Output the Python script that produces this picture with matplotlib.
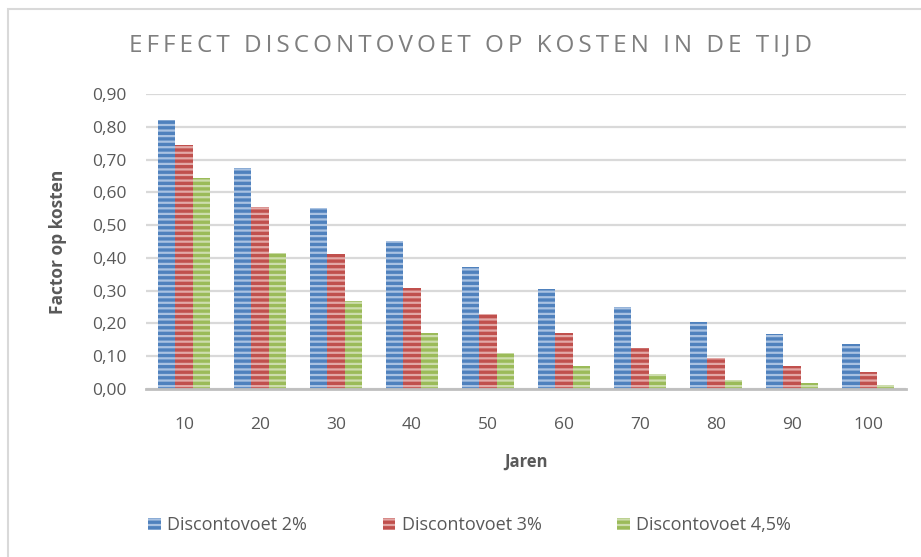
import numpy as np
import matplotlib.pyplot as plt
from matplotlib.patches import Rectangle

jaren = [10, 20, 30, 40, 50, 60, 70, 80, 90, 100]
disc_2 = [0.82, 0.673, 0.552, 0.453, 0.372, 0.305, 0.250, 0.205, 0.168, 0.138]
disc_3 = [0.744, 0.554, 0.412, 0.307, 0.228, 0.170, 0.126, 0.094, 0.070, 0.052]
disc_45 = [0.644, 0.415, 0.267, 0.172, 0.111, 0.071, 0.046, 0.029, 0.019, 0.012]
series_names = ["Discontovoet 2%", "Discontovoet 3%", "Discontovoet 4,5%"]
yticks = [0.0, 0.1, 0.2, 0.3, 0.4, 0.5, 0.6, 0.7, 0.8, 0.9]

colors = ["#4F81BD", "#C0504D", "#9BBB59"]
stripe = ["#A9C2E2", "#E3A8A6", "#CDDDAD"]
txt = "#595959"

plt.rcParams['font.family'] = ['Open Sans', 'DejaVu Sans']
plt.rcParams['hatch.linewidth'] = 1.6

fig = plt.figure(figsize=(9.21, 5.57), dpi=100)
ax = fig.add_axes([0.1585, 0.3016, 0.8255, 0.5296])

x = np.arange(len(jaren))
w = 0.23
for i, vals in enumerate([disc_2, disc_3, disc_45]):
    ax.bar(x + (i - 1) * w, vals, w, color=colors[i], edgecolor=stripe[i],
           hatch="---", linewidth=0, label=series_names[i], zorder=3)

ax.set_xlim(-0.5, len(jaren) - 0.5)
ax.set_ylim(0, 0.9)
ax.set_yticks(yticks)
ax.set_yticklabels([f"{v:.2f}".replace(".", ",") for v in yticks])
ax.set_xticks(x)
ax.set_xticklabels([str(j) for j in jaren])
ax.tick_params(axis="both", length=0, labelsize=12.5, labelcolor=txt)
ax.tick_params(axis="x", pad=20)
ax.tick_params(axis="y", pad=14)
ax.grid(axis="y", color="#D9D9D9", linewidth=1.6, zorder=0)
for s in ["top", "right", "left"]:
    ax.spines[s].set_visible(False)
ax.spines["bottom"].set_color("#BFBFBF")
ax.spines["bottom"].set_linewidth(2)
ax.spines["bottom"].set_zorder(4)

ax.set_xlabel("Jaren", fontsize=12, fontweight="bold", color=txt, labelpad=14)
ax.set_ylabel("Factor op kosten", fontsize=12.5, fontweight="bold", color=txt, labelpad=18)

title = "EFFECT DISCONTOVOET OP KOSTEN IN DE TIJD"
fig.text(0.511, 0.918, "\u2009".join(title), ha="center", va="center",
         fontsize=17.5, color="#7F7F7F")

fig.legend(loc="center", bbox_to_anchor=(0.51, 0.057), ncol=3, frameon=False,
           fontsize=13, labelcolor=txt, handlelength=0.7, handleheight=0.7,
           handletextpad=0.35, columnspacing=4.2)

fig.patches.append(Rectangle((8 / 921, -0.1), 1.2, 1 - 9 / 557 + 0.1,
                             transform=fig.transFigure, fill=False,
                             edgecolor="#D9D9D9", linewidth=1.5))

plt.savefig("out.png", dpi=100)
